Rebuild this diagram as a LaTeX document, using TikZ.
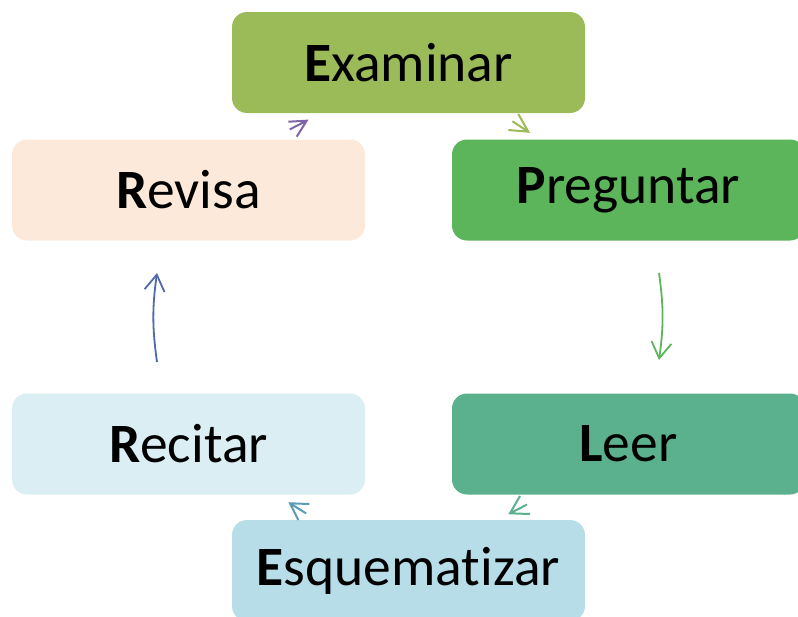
\documentclass[tikz,border=0pt]{standalone}
\usepackage{fontspec}
\setmainfont{Carlito}[Ligatures=NoCommon]
\usetikzlibrary{arrows.meta}
\definecolor{cExam}{HTML}{9BBB59}
\definecolor{cPreg}{HTML}{5CB55B}
\definecolor{cLeer}{HTML}{5BB08D}
\definecolor{cEsq}{HTML}{B7DDE8}
\definecolor{cRec}{HTML}{DBEEF4}
\definecolor{cRev}{HTML}{FDE9D9}
\definecolor{aRev}{HTML}{8064A8}
\definecolor{aExam}{HTML}{9BBB59}
\definecolor{aPreg}{HTML}{5CB55B}
\definecolor{aLeer}{HTML}{5BB08D}
\definecolor{aEsq}{HTML}{5B9BB5}
\definecolor{aRec}{HTML}{5068B0}
\tikzset{
  stepbox/.style={rectangle, rounded corners=15pt, minimum width=353pt, minimum height=101pt,
    inner sep=0pt, font=\fontsize{55.5}{60}\selectfont, text=black},
  cyc/.style={line width=1.8pt, -{Straight Barb[length=16pt,width=20pt,line width=1.8pt]}},
  headonly/.style={line width=2pt, line join=miter, line cap=butt},
}
\begin{document}
\begin{tikzpicture}[x=1pt,y=-1pt]
\useasboundingbox (0,0) rectangle (798,616);
\node[stepbox, fill=cExam] (exam) at (408.5,62.5) {\textbf{E}xaminar};
\node[stepbox, fill=cRev] (rev) at (188.5,190) {\textbf{R}evisa};
\node[stepbox, fill=cPreg] (preg) at (628.5,190) {\textbf{P}reguntar};
\node[stepbox, fill=cRec] (rec) at (188.5,444) {\textbf{R}ecitar};
\node[stepbox, fill=cLeer] (leer) at (628.5,444) {\textbf{L}eer};
\node[stepbox, fill=cEsq] (esq) at (408.5,570.5) {\textbf{E}squematizar};
% short arrows: shaft start, tip and two barbs
\coordinate (a1s) at (289.8,129.4); \coordinate (a1t) at (306.7,120.7); \coordinate (a1p) at (288.3,121.7); \coordinate (a1q) at (296.7,136.7);
\coordinate (a2s) at (512.4,121.3); \coordinate (a2t) at (528.3,131.7); \coordinate (a2p) at (508.3,130.0); \coordinate (a2q) at (518.3,114.0);
\coordinate (a4s) at (526.9,504.6); \coordinate (a4t) at (510.0,513.3); \coordinate (a4p) at (530.0,514.0); \coordinate (a4q) at (520.0,496.0);
\coordinate (a5s) at (306.1,513.4); \coordinate (a5t) at (290.0,503.3); \coordinate (a5p) at (309.3,504.0); \coordinate (a5q) at (298.3,520.0);
% long arrows
\coordinate (a3s) at (659,273); \coordinate (a3e) at (659,360);
\coordinate (a6s) at (157,362); \coordinate (a6e) at (157,273);
\draw[headonly, aRev] (a1s) -- (a1t) (a1p) -- (a1t) -- (a1q);
\draw[headonly, aExam] (a2s) -- (a2t) (a2p) -- (a2t) -- (a2q);
\draw[cyc, aPreg] (a3s) to[bend left=8] (a3e);
\draw[headonly, aLeer] (a4s) -- (a4t) (a4p) -- (a4t) -- (a4q);
\draw[headonly, aEsq] (a5s) -- (a5t) (a5p) -- (a5t) -- (a5q);
\draw[cyc, aRec] (a6s) to[bend left=8] (a6e);
\end{tikzpicture}
\end{document}
